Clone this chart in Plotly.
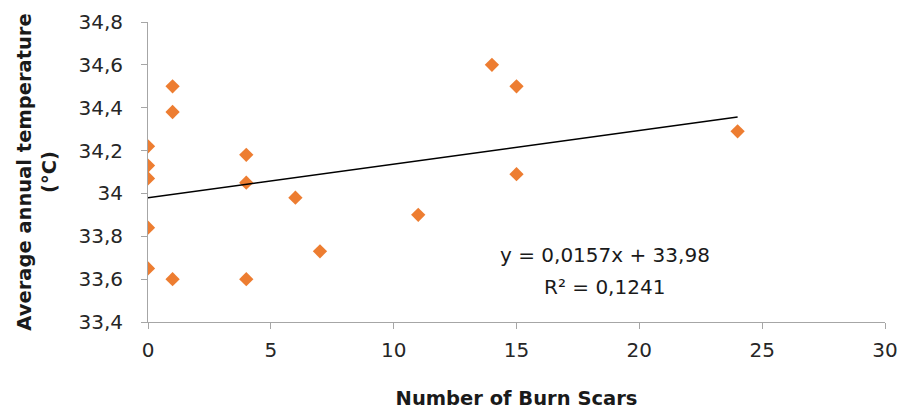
import plotly.graph_objects as go

burn_scars = [0, 0, 0, 0, 0, 1, 1, 1, 4, 4, 4, 6, 7, 11, 14, 15, 15, 24]
temperature = [34.22, 34.13, 34.07, 33.84, 33.65, 34.50, 34.38, 33.60, 34.18, 34.05,
               33.60, 33.98, 33.73, 33.90, 34.60, 34.50, 34.09, 34.29]
slope = 0.0157
intercept = 33.98
trend_x = [0, 24]
trend_y = [intercept + slope * x for x in trend_x]
y_ticks = [33.4, 33.6, 33.8, 34.0, 34.2, 34.4, 34.6, 34.8]
y_tick_text = ["33,4", "33,6", "33,8", "34", "34,2", "34,4", "34,6", "34,8"]
x_ticks = [0, 5, 10, 15, 20, 25, 30]
eq_text = "y = 0,0157x + 33,98"
r2_text = "R² = 0,1241"

fig = go.Figure()
fig.add_trace(go.Scatter(x=burn_scars, y=temperature, mode="markers",
                         marker=dict(symbol="diamond", color="#ED7D31", size=11),
                         showlegend=False))
fig.add_trace(go.Scatter(x=trend_x, y=trend_y, mode="lines",
                         line=dict(color="black", width=1.5), showlegend=False))

tick_font = dict(family="DejaVu Sans, sans-serif", size=20, color="#262626")
fig.update_layout(
    width=903, height=413,
    margin=dict(l=148, r=18, t=22, b=91, autoexpand=False),
    paper_bgcolor="white", plot_bgcolor="white",
    xaxis=dict(range=[0, 30], tickvals=x_ticks, showgrid=False, zeroline=False,
               showline=True, linecolor="#A6A6A6", linewidth=1, automargin=False,
               ticks="outside", ticklen=6, tickcolor="#A6A6A6",
               tickfont=tick_font, ticklabelstandoff=4,
               title=dict(text="<b>Number of Burn Scars</b>",
                          font=dict(family="DejaVu Sans, sans-serif", size=19.5, color="#1a1a1a"),
                          standoff=30)),
    yaxis=dict(range=[33.4, 34.8], tickvals=y_ticks, ticktext=y_tick_text,
               showgrid=False, zeroline=False, automargin=False,
               showline=True, linecolor="#A6A6A6", linewidth=1,
               ticks="outside", ticklen=6, tickcolor="#A6A6A6",
               tickfont=tick_font, ticklabelstandoff=14,
               title=dict(text="<b>Average annual temperature<br>(°C)</b>",
                          font=dict(family="DejaVu Sans, sans-serif", size=19.5, color="#1a1a1a"),
                          standoff=16)),
    annotations=[
        dict(x=18.6, y=33.714, xref="x", yref="y", text=eq_text, showarrow=False,
             font=dict(family="DejaVu Sans, sans-serif", size=20, color="#1a1a1a")),
        dict(x=18.6, y=33.565, xref="x", yref="y", text=r2_text, showarrow=False,
             font=dict(family="DejaVu Sans, sans-serif", size=20, color="#1a1a1a")),
    ],
)
fig.write_html("out.html")
